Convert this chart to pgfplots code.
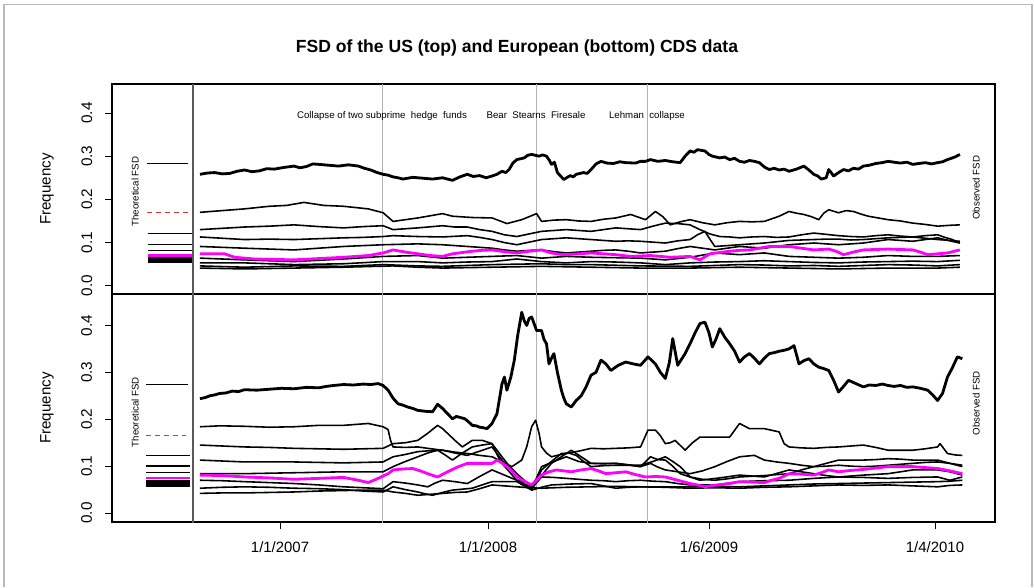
\documentclass[border=0pt]{standalone}
\usepackage{fontspec}
\setmainfont{Liberation Sans}
\usepackage{pgfplots}
\pgfplotsset{compat=1.18}
\definecolor{rmag}{RGB}{255,0,255}
\definecolor{tred}{RGB}{215,55,55}

% x is in reading units of the picture: 1/1/2007 = 171.7, 1/1/2008 = 591.9,
% 1/6/2009 = 1038.3, 1/4/2010 = 1494.8; the left strip (x < -4) holds the theoretical FSD
\pgfplotsset{
  fsd/.style={
    scale only axis, width=17.66cm,
    xmin=-167.7, xmax=1616, ymin=-0.019, ymax=0.467,
    axis line style={line width=0.8pt},
    tick align=outside, major tick length=0.14cm,
    tick style={black, line width=0.5pt},
    ytick={0,0.1,0.2,0.3,0.4}, ytick pos=left,
    yticklabels={0.0,0.1,0.2,0.3,0.4},
    yticklabel style={rotate=90, anchor=south, inner xsep=0pt, inner ysep=0.25cm,
      font=\fontsize{8.7}{10}\selectfont},
    ylabel={Frequency},
    every axis y label/.style={at={(axis description cs:-0.0736,0.5)},
      rotate=90, anchor=center, font=\fontsize{8.6}{10}\selectfont},
  },
  obs/.style={black, line width=0.9pt, line join=round},
  obs1/.style={black, line width=1.6pt, line join=round},
  mag/.style={rmag, line width=1.6pt, line join=round},
  ev/.style={gray!60, line width=0.5pt},
}
\tikzset{smalltxt/.style={font=\fontsize{5.5}{6}\selectfont}}

\begin{document}
\begin{tikzpicture}
\useasboundingbox (0,0) rectangle (20.68cm,11.74cm);
\draw[gray!55, line width=0.6pt] (0.08cm,0) -- (0.08cm,11.65cm) -- (20.64cm,11.65cm) -- (20.64cm,0);
\node[font=\bfseries\fontsize{10}{12}\selectfont] at (10.34cm,10.78cm)
  {FSD of the US (top) and European (bottom) CDS data};

% ---------------- top: US ----------------
\begin{axis}[fsd, height=4.2cm, at={(2.24cm,5.86cm)}, anchor=south west,
  xtick=\empty]
\addplot[ev] coordinates {(377.7,-1) (377.7,1)};
\addplot[ev] coordinates {(688.8,-1) (688.8,1)};
\addplot[ev] coordinates {(913,-1) (913,1)};
\addplot[gray!70!black, line width=1.3pt] coordinates {(-4,-1) (-4,1)};

% theoretical FSD
\addplot[black, line width=0.6pt] coordinates {(-97,0.283) (-14,0.283)};
\addplot[tred, line width=0.6pt, dash pattern=on 0.1cm off 0.08cm] coordinates {(-97,0.170) (-14,0.170)};
\addplot[black, line width=0.6pt] coordinates {(-95,0.121) (-6,0.121)};
\addplot[black, line width=0.8pt] coordinates {(-95,0.095) (-6,0.095)};
\addplot[black, line width=0.8pt] coordinates {(-95,0.081) (-6,0.081)};
\addplot[black, line width=1.2pt] coordinates {(-95,0.064) (-6,0.064)};
\addplot[black, line width=1.2pt] coordinates {(-95,0.059) (-6,0.059)};
\addplot[black, line width=1.2pt] coordinates {(-95,0.055) (-6,0.055)};
\addplot[rmag, line width=1.4pt] coordinates {(-95,0.070) (-6,0.070)};

% observed FSD
\addplot[obs1] coordinates {(10,0.258) (25,0.261) (40,0.262) (55,0.259) (70,0.260) (85,0.265) (100,0.268) (115,0.264) (130,0.266) (145,0.271) (160,0.270) (180,0.274) (200,0.277) (212,0.273) (225,0.276) (238,0.282) (250,0.281) (270,0.279) (290,0.277) (310,0.280) (330,0.277) (342,0.272) (355,0.268) (368,0.262) (380,0.258) (390,0.256) (400,0.252) (410,0.250) (420,0.247) (440,0.251) (460,0.249) (480,0.247) (500,0.250) (510,0.247) (520,0.244) (535,0.252) (550,0.258) (562,0.253) (575,0.255) (588,0.250) (600,0.254) (610,0.258) (620,0.265) (628,0.262) (635,0.270) (642,0.284) (650,0.292) (665,0.296) (672,0.302) (680,0.304) (695,0.300) (702,0.303) (710,0.300) (716,0.290) (720,0.281) (726,0.286) (732,0.262) (745,0.246) (752,0.251) (758,0.255) (764,0.252) (770,0.258) (785,0.262) (792,0.260) (800,0.269) (810,0.282) (820,0.288) (832,0.284) (845,0.283) (858,0.287) (870,0.285) (890,0.284) (900,0.288) (910,0.288) (920,0.292) (935,0.288) (950,0.290) (965,0.287) (980,0.285) (990,0.300) (1000,0.312) (1008,0.309) (1015,0.315) (1030,0.312) (1038,0.304) (1045,0.300) (1060,0.296) (1070,0.298) (1080,0.292) (1090,0.295) (1100,0.288) (1110,0.286) (1120,0.290) (1130,0.288) (1140,0.285) (1150,0.275) (1160,0.269) (1170,0.272) (1180,0.268) (1190,0.270) (1200,0.265) (1215,0.270) (1230,0.277) (1240,0.268) (1250,0.258) (1258,0.254) (1265,0.247) (1275,0.250) (1280,0.269) (1285,0.262) (1290,0.254) (1300,0.262) (1310,0.269) (1320,0.266) (1330,0.272) (1340,0.270) (1350,0.277) (1362,0.279) (1375,0.283) (1388,0.285) (1400,0.288) (1412,0.286) (1425,0.284) (1438,0.286) (1450,0.281) (1462,0.283) (1475,0.285) (1488,0.282) (1500,0.285) (1510,0.287) (1520,0.292) (1535,0.298) (1545,0.304)};
\addplot[obs] coordinates {(10,0.170) (55,0.174) (100,0.178) (150,0.184) (185,0.186) (220,0.193) (260,0.186) (300,0.184) (350,0.178) (380,0.169) (400,0.149) (425,0.153) (450,0.157) (475,0.162) (500,0.167) (520,0.161) (560,0.158) (600,0.157) (630,0.144) (660,0.153) (690,0.167) (700,0.149) (725,0.152) (750,0.153) (775,0.150) (800,0.149) (825,0.154) (850,0.157) (880,0.165) (910,0.153) (930,0.172) (945,0.160) (960,0.141) (980,0.148) (1000,0.153) (1025,0.146) (1050,0.141) (1075,0.146) (1100,0.149) (1125,0.148) (1150,0.149) (1180,0.161) (1200,0.172) (1215,0.168) (1230,0.165) (1245,0.160) (1260,0.153) (1270,0.168) (1280,0.176) (1300,0.169) (1315,0.174) (1330,0.172) (1345,0.166) (1360,0.161) (1380,0.157) (1400,0.153) (1425,0.150) (1450,0.145) (1475,0.142) (1500,0.138) (1525,0.140) (1545,0.141)};
\addplot[obs] coordinates {(10,0.130) (55,0.133) (100,0.136) (150,0.138) (200,0.141) (250,0.137) (300,0.134) (340,0.137) (380,0.139) (400,0.130) (450,0.134) (500,0.139) (525,0.136) (550,0.136) (575,0.130) (600,0.126) (625,0.118) (650,0.114) (675,0.120) (700,0.126) (725,0.128) (750,0.130) (775,0.128) (800,0.126) (825,0.130) (850,0.134) (875,0.132) (900,0.130) (925,0.138) (950,0.145) (975,0.144) (1000,0.141) (1020,0.130) (1040,0.120) (1060,0.114) (1080,0.113) (1100,0.111) (1125,0.113) (1150,0.114) (1175,0.112) (1200,0.113) (1225,0.118) (1250,0.122) (1275,0.119) (1300,0.116) (1325,0.114) (1350,0.113) (1375,0.116) (1400,0.118) (1425,0.115) (1450,0.113) (1475,0.110) (1500,0.107) (1525,0.105) (1545,0.103)};
\addplot[obs] coordinates {(10,0.113) (55,0.110) (100,0.107) (150,0.108) (200,0.107) (250,0.109) (300,0.111) (340,0.112) (380,0.114) (400,0.116) (450,0.114) (500,0.113) (550,0.116) (575,0.112) (600,0.107) (625,0.100) (650,0.095) (675,0.101) (700,0.107) (725,0.109) (750,0.111) (775,0.109) (800,0.107) (825,0.105) (850,0.103) (875,0.104) (900,0.103) (925,0.101) (950,0.099) (975,0.104) (1000,0.107) (1015,0.118) (1030,0.126) (1040,0.108) (1050,0.091) (1075,0.093) (1100,0.095) (1125,0.097) (1150,0.099) (1175,0.102) (1200,0.105) (1225,0.106) (1250,0.107) (1275,0.108) (1300,0.108) (1325,0.106) (1350,0.107) (1375,0.109) (1400,0.111) (1425,0.112) (1450,0.113) (1475,0.116) (1500,0.118) (1515,0.112) (1530,0.107) (1545,0.099)};
\addplot[obs] coordinates {(10,0.091) (55,0.089) (100,0.087) (150,0.085) (200,0.083) (250,0.087) (300,0.091) (340,0.093) (380,0.095) (415,0.096) (450,0.097) (500,0.095) (550,0.091) (575,0.089) (600,0.087) (625,0.083) (650,0.080) (675,0.082) (700,0.083) (725,0.079) (750,0.076) (775,0.078) (800,0.080) (825,0.082) (850,0.083) (875,0.080) (900,0.076) (925,0.078) (950,0.080) (975,0.086) (1000,0.091) (1025,0.087) (1050,0.083) (1075,0.087) (1100,0.091) (1125,0.089) (1150,0.087) (1175,0.091) (1200,0.095) (1225,0.097) (1250,0.099) (1275,0.097) (1300,0.095) (1325,0.097) (1350,0.099) (1375,0.103) (1400,0.107) (1425,0.105) (1450,0.103) (1475,0.107) (1500,0.111) (1525,0.104) (1545,0.099)};
\addplot[obs] coordinates {(10,0.064) (100,0.060) (200,0.056) (300,0.062) (380,0.068) (450,0.070) (500,0.064) (550,0.066) (600,0.068) (650,0.070) (700,0.064) (750,0.068) (800,0.066) (850,0.065) (900,0.064) (950,0.060) (1000,0.066) (1050,0.076) (1100,0.072) (1150,0.076) (1200,0.068) (1250,0.066) (1300,0.064) (1350,0.066) (1400,0.070) (1450,0.068) (1500,0.068) (1545,0.070)};
\addplot[obs] coordinates {(10,0.053) (100,0.053) (200,0.049) (300,0.051) (380,0.056) (450,0.056) (500,0.053) (550,0.055) (600,0.056) (650,0.062) (700,0.056) (750,0.053) (800,0.056) (850,0.055) (900,0.053) (950,0.049) (1000,0.053) (1050,0.055) (1100,0.056) (1150,0.058) (1200,0.056) (1250,0.054) (1300,0.053) (1350,0.055) (1400,0.056) (1450,0.057) (1500,0.056) (1545,0.059)};
\addplot[obs] coordinates {(10,0.046) (100,0.043) (200,0.046) (300,0.045) (380,0.049) (450,0.046) (500,0.045) (550,0.047) (600,0.049) (650,0.050) (700,0.051) (750,0.049) (800,0.049) (900,0.046) (1000,0.045) (1050,0.047) (1100,0.049) (1150,0.048) (1200,0.046) (1250,0.047) (1300,0.045) (1350,0.047) (1400,0.049) (1450,0.048) (1500,0.046) (1545,0.049)};
\addplot[obs] coordinates {(10,0.041) (100,0.039) (200,0.041) (300,0.043) (400,0.046) (450,0.043) (500,0.041) (550,0.042) (600,0.043) (700,0.045) (800,0.043) (900,0.041) (1000,0.041) (1100,0.043) (1200,0.041) (1300,0.039) (1400,0.041) (1500,0.041) (1545,0.043)};
\addplot[mag] coordinates {(10,0.074) (35,0.074) (60,0.074) (80,0.066) (100,0.064) (120,0.062) (160,0.061) (200,0.060) (250,0.063) (300,0.066) (350,0.070) (380,0.076) (400,0.083) (425,0.078) (450,0.074) (475,0.070) (500,0.068) (520,0.074) (540,0.077) (560,0.080) (580,0.082) (600,0.083) (625,0.079) (650,0.076) (675,0.080) (700,0.083) (720,0.076) (735,0.073) (750,0.072) (775,0.074) (800,0.076) (825,0.074) (850,0.072) (880,0.068) (900,0.069) (920,0.070) (940,0.068) (960,0.066) (980,0.067) (1000,0.068) (1020,0.060) (1040,0.074) (1060,0.077) (1080,0.080) (1100,0.082) (1120,0.083) (1140,0.087) (1160,0.091) (1180,0.091) (1200,0.091) (1225,0.087) (1250,0.083) (1280,0.085) (1295,0.080) (1310,0.072) (1330,0.078) (1350,0.083) (1375,0.084) (1400,0.085) (1425,0.084) (1450,0.083) (1465,0.078) (1480,0.072) (1500,0.074) (1520,0.076) (1545,0.083)};

\node[smalltxt] at (axis cs:377.7,0.394) {Collapse of two subprime\ \ hedge\ \ funds};
\node[smalltxt] at (axis cs:688.8,0.394) {Bear\ \ Stearns\ \ Firesale};
\node[smalltxt] at (axis cs:913,0.394) {Lehman\ \ collapse};
\node[smalltxt, rotate=90] at (axis cs:-121,0.218) {Theoretical FSD};
\node[smalltxt, rotate=90] at (axis cs:1578,0.227) {Observed FSD};
\end{axis}

% ---------------- bottom: Europe ----------------
\begin{axis}[fsd, height=4.56cm, at={(2.24cm,1.30cm)}, anchor=south west,
  xtick={171.7,591.9,1038.3,1494.8}, xtick pos=bottom,
  xticklabels={1/1/2007,1/1/2008,1/6/2009,1/4/2010},
  xticklabel style={font=\fontsize{8.5}{10}\selectfont, inner sep=0pt, yshift=-0.24cm}]
\addplot[ev] coordinates {(377.7,-1) (377.7,1)};
\addplot[ev] coordinates {(688.8,-1) (688.8,1)};
\addplot[ev] coordinates {(913,-1) (913,1)};
\addplot[gray!70!black, line width=1.3pt] coordinates {(-4,-1) (-4,1)};

% theoretical FSD
\addplot[black, line width=0.6pt] coordinates {(-99,0.274) (-14,0.274)};
\addplot[tred, line width=0.6pt, dash pattern=on 0.1cm off 0.08cm] coordinates {(-99,0.166) (-18,0.166)};
\addplot[black, line width=0.6pt] coordinates {(-99,0.123) (-10,0.123)};
\addplot[black, line width=0.8pt] coordinates {(-99,0.100) (-10,0.100)};
\addplot[black, line width=0.8pt] coordinates {(-99,0.086) (-10,0.086)};
\addplot[black, line width=1.4pt] coordinates {(-99,0.067) (-10,0.067)};
\addplot[black, line width=1.4pt] coordinates {(-99,0.063) (-10,0.063)};
\addplot[black, line width=1.4pt] coordinates {(-99,0.059) (-10,0.059)};
\addplot[rmag, line width=1.4pt] coordinates {(-99,0.075) (-10,0.075)};

% observed FSD
\addplot[obs1] coordinates {(10,0.244) (20,0.246) (30,0.250) (40,0.252) (50,0.255) (62,0.256) (75,0.260) (88,0.259) (100,0.263) (125,0.262) (150,0.264) (175,0.266) (200,0.265) (225,0.268) (250,0.267) (265,0.270) (280,0.272) (300,0.274) (320,0.273) (340,0.275) (355,0.274) (370,0.276) (380,0.272) (390,0.262) (400,0.245) (410,0.233) (420,0.230) (430,0.226) (440,0.223) (450,0.219) (465,0.217) (480,0.216) (490,0.232) (500,0.223) (510,0.212) (520,0.201) (528,0.206) (535,0.204) (545,0.201) (552,0.195) (560,0.187) (568,0.186) (575,0.183) (582,0.182) (590,0.180) (600,0.191) (610,0.212) (620,0.275) (625,0.290) (630,0.262) (638,0.290) (645,0.326) (652,0.380) (660,0.428) (665,0.410) (670,0.400) (675,0.415) (680,0.418) (690,0.389) (700,0.389) (705,0.370) (710,0.361) (715,0.318) (720,0.330) (725,0.340) (732,0.300) (740,0.262) (745,0.245) (750,0.233) (760,0.226) (770,0.240) (780,0.250) (790,0.269) (800,0.294) (810,0.300) (820,0.326) (830,0.318) (840,0.304) (855,0.315) (870,0.322) (885,0.318) (900,0.315) (915,0.333) (930,0.318) (940,0.300) (950,0.287) (958,0.320) (965,0.372) (975,0.315) (990,0.340) (1000,0.361) (1010,0.384) (1020,0.404) (1030,0.407) (1038,0.385) (1045,0.354) (1052,0.370) (1060,0.393) (1070,0.375) (1080,0.361) (1090,0.345) (1100,0.322) (1110,0.333) (1120,0.340) (1130,0.330) (1140,0.318) (1150,0.330) (1160,0.340) (1170,0.342) (1180,0.345) (1190,0.347) (1200,0.350) (1210,0.357) (1220,0.318) (1230,0.325) (1240,0.329) (1250,0.318) (1260,0.311) (1270,0.308) (1280,0.304) (1290,0.283) (1300,0.258) (1310,0.270) (1320,0.283) (1335,0.276) (1350,0.269) (1362,0.273) (1375,0.272) (1388,0.275) (1400,0.272) (1412,0.270) (1425,0.272) (1438,0.268) (1450,0.269) (1465,0.266) (1480,0.262) (1490,0.252) (1500,0.240) (1510,0.255) (1520,0.290) (1530,0.310) (1540,0.333) (1550,0.329)};
\addplot[obs] coordinates {(10,0.184) (50,0.186) (100,0.185) (150,0.183) (200,0.184) (250,0.187) (300,0.187) (350,0.191) (380,0.184) (390,0.178) (395,0.155) (400,0.141) (425,0.140) (450,0.141) (470,0.138) (500,0.134) (525,0.130) (550,0.127) (575,0.123) (600,0.120) (620,0.110) (640,0.099) (660,0.113) (670,0.141) (680,0.184) (688,0.198) (695,0.170) (700,0.141) (710,0.128) (720,0.120) (735,0.124) (750,0.127) (775,0.132) (800,0.138) (825,0.137) (850,0.138) (875,0.139) (900,0.141) (915,0.177) (930,0.177) (940,0.165) (950,0.148) (960,0.150) (970,0.155) (990,0.134) (1005,0.150) (1020,0.162) (1050,0.162) (1080,0.162) (1100,0.191) (1120,0.180) (1150,0.180) (1180,0.173) (1190,0.148) (1200,0.141) (1225,0.139) (1250,0.138) (1275,0.140) (1300,0.141) (1325,0.143) (1350,0.145) (1375,0.140) (1400,0.134) (1425,0.134) (1450,0.134) (1475,0.137) (1500,0.141) (1505,0.148) (1520,0.127) (1535,0.124) (1550,0.123)};
\addplot[obs] coordinates {(10,0.145) (55,0.143) (100,0.141) (150,0.140) (200,0.138) (250,0.137) (300,0.136) (340,0.137) (380,0.138) (400,0.148) (425,0.150) (450,0.155) (470,0.170) (490,0.187) (500,0.180) (510,0.170) (525,0.155) (540,0.141) (560,0.155) (580,0.155) (600,0.148) (620,0.120) (635,0.100) (650,0.084) (665,0.070) (680,0.056) (690,0.075) (700,0.099) (725,0.110) (750,0.120) (775,0.110) (800,0.106) (825,0.105) (850,0.106) (875,0.103) (900,0.099) (920,0.106) (935,0.098) (950,0.092) (975,0.088) (1000,0.084) (1025,0.090) (1050,0.099) (1075,0.110) (1100,0.120) (1130,0.123) (1150,0.113) (1175,0.109) (1200,0.106) (1225,0.102) (1250,0.099) (1275,0.106) (1300,0.113) (1325,0.113) (1350,0.113) (1375,0.114) (1400,0.116) (1425,0.115) (1450,0.113) (1475,0.113) (1500,0.113) (1525,0.106) (1550,0.099)};
\addplot[obs] coordinates {(10,0.113) (55,0.111) (100,0.109) (150,0.109) (200,0.109) (250,0.108) (300,0.107) (340,0.108) (380,0.109) (400,0.120) (425,0.125) (450,0.131) (475,0.133) (500,0.134) (525,0.128) (550,0.123) (575,0.132) (600,0.141) (620,0.113) (635,0.095) (650,0.077) (665,0.062) (680,0.052) (690,0.070) (700,0.092) (720,0.110) (740,0.127) (755,0.128) (770,0.123) (785,0.110) (800,0.099) (825,0.101) (850,0.102) (875,0.102) (900,0.102) (925,0.110) (950,0.120) (965,0.110) (980,0.099) (1000,0.077) (1025,0.072) (1050,0.070) (1075,0.073) (1100,0.077) (1150,0.080) (1200,0.084) (1225,0.092) (1250,0.099) (1275,0.100) (1300,0.102) (1325,0.100) (1350,0.099) (1375,0.100) (1400,0.102) (1425,0.104) (1450,0.106) (1475,0.108) (1500,0.109) (1525,0.106) (1550,0.102)};
\addplot[obs] coordinates {(10,0.084) (100,0.084) (200,0.086) (300,0.088) (380,0.088) (400,0.099) (425,0.110) (450,0.120) (470,0.128) (490,0.134) (505,0.124) (520,0.113) (540,0.128) (560,0.141) (580,0.145) (600,0.148) (610,0.125) (620,0.106) (635,0.088) (650,0.070) (665,0.062) (680,0.056) (700,0.080) (720,0.106) (740,0.120) (760,0.134) (780,0.120) (800,0.106) (850,0.106) (900,0.099) (920,0.120) (935,0.114) (950,0.113) (965,0.100) (980,0.084) (1000,0.077) (1020,0.070) (1060,0.075) (1100,0.081) (1150,0.077) (1200,0.092) (1225,0.088) (1250,0.084) (1275,0.080) (1300,0.077) (1350,0.081) (1400,0.084) (1450,0.092) (1500,0.092) (1525,0.088) (1550,0.081)};
\addplot[obs] coordinates {(10,0.070) (55,0.069) (100,0.067) (150,0.065) (200,0.063) (250,0.060) (300,0.056) (340,0.054) (380,0.052) (400,0.067) (425,0.064) (450,0.060) (470,0.056) (485,0.064) (500,0.070) (525,0.067) (550,0.063) (575,0.078) (600,0.092) (625,0.081) (650,0.070) (665,0.061) (680,0.052) (700,0.077) (725,0.076) (750,0.074) (775,0.072) (800,0.070) (825,0.069) (850,0.067) (875,0.069) (900,0.070) (925,0.068) (950,0.067) (975,0.063) (1000,0.060) (1050,0.060) (1100,0.067) (1150,0.069) (1200,0.070) (1250,0.074) (1300,0.077) (1350,0.076) (1400,0.074) (1450,0.076) (1500,0.077) (1525,0.070) (1550,0.077)};
\addplot[obs] coordinates {(10,0.053) (55,0.055) (100,0.056) (150,0.055) (200,0.053) (250,0.052) (300,0.050) (340,0.047) (380,0.045) (400,0.056) (425,0.050) (450,0.045) (465,0.041) (480,0.038) (500,0.044) (520,0.049) (540,0.051) (560,0.053) (580,0.060) (600,0.067) (625,0.067) (650,0.067) (665,0.058) (680,0.049) (700,0.055) (720,0.060) (760,0.062) (800,0.063) (825,0.058) (850,0.053) (875,0.055) (900,0.056) (950,0.056) (1000,0.056) (1050,0.057) (1100,0.056) (1150,0.058) (1200,0.060) (1250,0.062) (1300,0.063) (1350,0.064) (1400,0.065) (1450,0.066) (1500,0.067) (1525,0.068) (1550,0.070)};
\addplot[obs] coordinates {(10,0.042) (55,0.043) (100,0.043) (150,0.044) (200,0.045) (250,0.047) (300,0.048) (340,0.049) (380,0.049) (400,0.045) (425,0.042) (450,0.038) (475,0.040) (500,0.042) (525,0.044) (550,0.045) (575,0.052) (600,0.060) (625,0.058) (650,0.056) (675,0.054) (700,0.053) (750,0.055) (800,0.056) (850,0.057) (900,0.056) (950,0.055) (1000,0.053) (1050,0.054) (1100,0.053) (1150,0.055) (1200,0.056) (1250,0.058) (1300,0.060) (1350,0.059) (1400,0.060) (1450,0.058) (1500,0.056) (1525,0.059) (1550,0.060)};
\addplot[mag] coordinates {(10,0.081) (55,0.080) (100,0.077) (150,0.075) (200,0.072) (250,0.074) (300,0.076) (330,0.070) (350,0.065) (370,0.074) (390,0.084) (400,0.092) (420,0.094) (440,0.095) (455,0.090) (470,0.084) (490,0.077) (510,0.088) (530,0.098) (550,0.106) (575,0.106) (600,0.106) (610,0.113) (620,0.107) (630,0.099) (640,0.090) (650,0.077) (665,0.068) (680,0.060) (690,0.070) (700,0.081) (715,0.088) (730,0.092) (745,0.090) (760,0.088) (780,0.092) (800,0.095) (815,0.090) (830,0.084) (850,0.086) (870,0.088) (890,0.082) (910,0.077) (930,0.078) (950,0.077) (975,0.070) (1000,0.063) (1015,0.060) (1030,0.056) (1045,0.059) (1060,0.060) (1080,0.063) (1100,0.067) (1125,0.066) (1150,0.065) (1165,0.070) (1180,0.074) (1200,0.084) (1225,0.083) (1250,0.081) (1265,0.086) (1280,0.092) (1300,0.088) (1325,0.091) (1350,0.093) (1375,0.096) (1400,0.099) (1425,0.099) (1450,0.099) (1475,0.097) (1500,0.095) (1525,0.090) (1550,0.084)};

\node[smalltxt, rotate=90] at (axis cs:-121,0.215) {Theoretical FSD};
\node[smalltxt, rotate=90] at (axis cs:1578,0.234) {Observed FSD};
\end{axis}
\end{tikzpicture}
\end{document}
